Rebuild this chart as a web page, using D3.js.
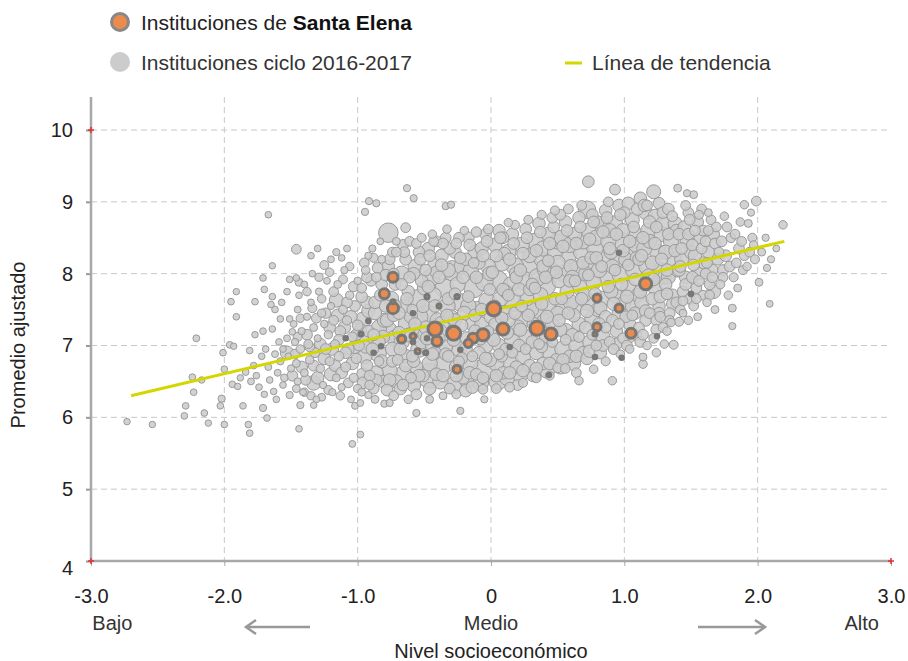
<!DOCTYPE html>
<html>
<head>
<meta charset="utf-8">
<script src="https://cdn.jsdelivr.net/npm/d3@7"></script>
<style>
  body { margin: 0; background: #fff; }
  svg { display: block; font-family: "Liberation Sans", Arial, sans-serif; }
</style>
</head>
<body>
<div id="chart"></div>
<script>
// [nivel socioeconómico, promedio ajustado, matrícula]
const otherSchools = [
  [-2.73,5.94,40],[-2.54,5.9,40],[-2.21,7.1,50],[-2.24,6.56,45],[-2.23,6.35,45],[-2.29,6.16,45],[-2.3,6.02,45],[-2.15,6.06,45],
  [-2.12,5.92,40],[-2.17,6.52,40],[-2.02,6.26,60],[-2.03,6.16,45],[-2.0,5.9,45],[-2.0,6.67,45],[-2.01,6.9,45],[-1.96,7.01,45],
  [-1.93,6.99,40],[-1.95,7.61,45],[-1.91,7.75,40],[-1.91,7.4,45],[-1.94,6.46,45],[-1.9,6.43,40],[-1.86,6.16,45],[-1.82,5.9,45],
  [-1.81,5.78,45],[-1.77,7.61,45],[-1.77,7.15,40],[-1.81,6.93,45],[-1.78,6.72,45],[-1.71,7.94,45],[-1.7,7.78,45],[-1.64,8.11,40],
  [-1.65,7.57,45],[-1.64,7.68,45],[-1.71,7.2,45],[-1.64,7.23,45],[-1.71,6.13,60],[-1.68,5.99,45],[-1.51,7.92,45],[-1.46,7.94,45],
  [-1.46,8.34,150],[-1.44,5.84,45],[-1.58,7.37,45],[-1.51,7.37,45],[-1.49,7.19,45],[-1.56,6.45,45],[-1.51,6.31,60],[-1.43,6.17,60],
  [-1.33,6.17,45],[-1.67,8.82,45],
  [-1.88,6.55,40],[-1.84,6.63,45],[-1.8,6.5,50],[-1.76,6.58,45],[-1.74,6.42,45],[-1.72,6.85,45],[-1.69,6.95,45],[-1.67,6.7,50],
  [-1.66,6.52,45],[-1.63,6.36,45],[-1.62,6.88,50],[-1.6,6.62,50],[-1.59,7.05,45],[-1.58,6.78,60],[-1.56,6.95,45],[-1.55,6.55,70],
  [-1.53,7.1,50],[-1.52,6.85,45],[-1.5,6.68,60],[-1.62,7.5,45],[-1.57,7.6,45],[-1.53,7.75,45],[-1.61,6.25,45],[-1.7,6.32,40],
  [-1.53,6.9,350],[-1.33,6.48,450],[-1.2,6.6,350],[-1.16,7.63,400],[-1.25,8.12,120],
  [-1.48,7.3,50],[-1.47,7.05,60],[-1.46,6.75,80],[-1.45,6.5,60],[-1.45,7.5,50],[-1.44,7.7,45],[-1.43,6.95,100],[-1.42,7.2,60],
  [-1.41,6.35,50],[-1.4,7.85,50],[-1.4,6.62,80],[-1.38,7.4,60],[-1.37,7.02,120],[-1.36,6.8,90],[-1.35,7.6,50],[-1.34,8.0,45],
  [-1.33,7.25,80],[-1.32,6.9,150],[-1.31,6.25,50],[-1.3,7.1,60],[-1.29,7.75,60],[-1.28,6.68,100],[-1.27,7.45,90],[-1.26,6.45,60],
  [-1.25,7.3,70],[-1.24,6.95,200],[-1.23,7.9,50],[-1.22,7.15,90],[-1.21,6.78,120],[-1.2,7.55,60],[-1.19,6.35,60],[-1.18,7.35,150],
  [-1.17,7.02,110],[-1.16,6.55,80],[-1.15,7.85,80],[-1.14,6.85,150],[-1.13,7.2,200],[-1.12,6.42,60],[-1.11,7.5,110],[-1.1,8.05,60],
  [-1.09,6.7,160],[-1.08,7.35,130],[-1.07,6.95,250],[-1.06,7.7,90],[-1.05,6.25,50],[-1.04,7.12,150],[-1.03,6.55,120],[-1.02,7.55,200],
  [-1.01,6.82,180],[-1.0,7.9,70],[-1.0,7.28,200],[-1.0,6.4,90],[-1.08,8.35,50],[-1.12,8.22,45],[-1.2,8.2,50],[-1.35,8.25,45],
  [-1.3,8.35,45],[-1.04,5.63,50],[-0.98,5.76,50],[-1.02,6.16,50],
  [-1.49,6.58,200],[-1.47,6.88,150],[-1.45,7.12,120],[-1.43,7.38,100],[-1.42,6.7,250],[-1.39,6.52,180],[-1.38,7.15,200],[-1.36,6.98,150],
  [-1.34,7.52,120],[-1.33,6.72,200],[-1.31,7.38,150],[-1.3,6.55,300],[-1.28,7.02,250],[-1.27,7.65,100],[-1.25,6.82,300],[-1.24,7.45,180],
  [-1.22,6.38,120],[-1.21,7.25,250],[-1.19,6.95,300],[-1.18,7.75,150],[-1.17,6.72,250],[-1.15,7.42,300],[-1.14,7.08,200],[-1.12,6.62,250],
  [-1.11,7.92,120],[-1.1,7.25,300],[-1.09,6.9,250],[-1.08,7.6,200],[-1.07,6.48,150],[-1.06,8.1,100],[-1.05,7.4,300],[-1.04,6.75,300],
  [-1.03,7.82,180],[-1.02,6.98,350],[-1.01,7.15,250],[-1.44,7.88,80],[-1.38,7.75,100],[-1.29,7.95,90],[-1.21,8.02,100],[-1.16,8.3,60],
  [-1.4,6.35,100],[-1.35,6.3,90],[-1.27,6.28,80],[-1.13,6.3,100],[-1.46,6.4,80],
  [-0.97,6.35,80],[-0.96,6.6,300],[-0.95,6.85,500],[-0.94,7.1,400],[-0.96,7.35,600],[-0.93,7.6,300],[-0.97,7.8,150],[-0.94,8.05,100],
  [-0.92,8.25,60],[-0.99,7.0,200],[-0.91,6.45,150],[-0.92,7.2,250],[-0.9,7.9,200],[-0.98,6.2,50],[-0.93,6.72,250],[-0.915,9.01,60],
  [-0.945,8.86,60],[-0.92,6.31,60],
  [-0.96,6.48,250],[-0.94,6.98,300],[-0.92,7.48,350],[-0.97,7.68,250],[-0.93,7.95,200],[-0.95,8.15,150],[-0.91,6.58,200],[-0.98,7.22,300],
  [-0.88,6.4,200],[-0.86,6.62,400],[-0.85,6.9,700],[-0.84,7.25,500],[-0.87,7.45,350],[-0.83,7.7,250],[-0.86,7.95,150],[-0.82,8.2,80],
  [-0.89,8.35,60],[-0.81,6.5,300],[-0.84,7.05,300],[-0.8,7.35,400],[-0.88,7.15,250],[-0.82,6.78,350],[-0.86,8.98,60],[-0.8,6.19,60],
  [-0.83,8.45,50],[-0.87,6.25,80],
  [-0.86,6.52,250],[-0.84,6.78,150],[-0.87,7.6,300],[-0.82,7.85,250],[-0.85,8.08,200],[-0.88,8.22,120],[-0.81,7.12,350],[-0.89,6.95,300],
  [-0.78,6.38,250],[-0.76,6.65,500],[-0.74,6.95,400],[-0.77,7.2,800],[-0.73,7.42,300],[-0.75,7.65,500],[-0.72,7.85,250],[-0.77,8.1,300],
  [-0.77,8.57,900],[-0.74,8.3,150],[-0.71,6.5,350],[-0.72,7.1,600],[-0.79,7.55,300],[-0.7,6.8,200],[-0.73,8.0,200],[-0.76,6.2,60],
  [-0.71,8.45,80],
  [-0.76,6.52,300],[-0.74,6.78,250],[-0.78,7.35,350],[-0.72,7.55,300],[-0.79,7.98,250],[-0.76,8.2,200],[-0.71,8.3,150],[-0.73,6.3,150],
  [-0.68,6.4,300],[-0.66,6.6,600],[-0.64,6.85,400],[-0.67,7.05,500],[-0.63,7.3,700],[-0.65,7.55,400],[-0.62,7.75,300],[-0.67,8.0,500],
  [-0.64,8.2,250],[-0.64,8.64,150],[-0.63,9.19,60],[-0.6,6.55,200],[-0.69,7.18,300],[-0.61,7.95,250],[-0.66,8.4,200],[-0.62,6.25,100],
  [-0.6,7.4,350],
  [-0.66,6.45,250],[-0.64,6.72,300],[-0.68,6.95,300],[-0.62,7.15,350],[-0.69,7.45,300],[-0.63,7.65,300],[-0.67,7.85,250],[-0.65,8.3,200],
  [-0.61,8.45,150],
  [-0.58,6.45,400],[-0.56,6.7,350],[-0.54,6.95,600],[-0.57,7.2,400],[-0.53,7.4,500],[-0.55,7.65,800],[-0.52,7.9,300],[-0.57,8.1,400],
  [-0.54,8.3,250],[-0.58,9.05,60],[-0.56,6.06,60],[-0.51,6.58,300],[-0.59,6.85,250],[-0.5,7.15,350],[-0.52,8.5,120],[-0.59,7.5,200],
  [-0.5,7.8,400],
  [-0.56,6.32,200],[-0.54,6.58,300],[-0.58,6.78,300],[-0.52,7.05,400],[-0.57,7.3,300],[-0.51,7.55,350],[-0.58,8.0,300],[-0.53,8.2,250],
  [-0.56,8.42,150],
  [-0.46,6.58,1600],[-0.46,6.75,500],[-0.44,7.0,400],[-0.47,7.45,600],[-0.43,7.7,500],[-0.45,7.95,700],[-0.42,8.15,400],[-0.47,8.35,300],
  [-0.44,8.55,100],[-0.41,6.6,300],[-0.49,7.25,350],[-0.4,7.35,500],[-0.42,6.9,300],[-0.49,8.05,250],[-0.46,6.25,80],[-0.41,8.45,200],
  [-0.46,6.4,300],[-0.44,6.88,300],[-0.48,7.1,350],[-0.42,7.55,300],[-0.47,7.82,300],[-0.41,8.02,300],[-0.46,8.25,250],[-0.43,8.45,150],
  [-0.38,6.5,500],[-0.36,6.72,700],[-0.34,6.98,400],[-0.37,7.3,500],[-0.33,7.55,600],[-0.35,7.8,800],[-0.32,8.05,400],[-0.37,8.25,350],
  [-0.34,8.5,200],[-0.34,8.94,60],[-0.3,8.96,60],[-0.31,6.4,200],[-0.39,7.1,300],[-0.3,7.4,400],[-0.32,6.85,250],[-0.39,7.95,300],
  [-0.36,6.3,80],[-0.33,8.62,100],
  [-0.36,6.58,300],[-0.34,6.88,300],[-0.38,7.2,350],[-0.32,7.65,300],[-0.37,8.12,300],[-0.31,8.35,250],[-0.36,8.42,200],[-0.33,7.42,300],
  [-0.28,6.45,600],[-0.26,6.7,400],[-0.24,6.95,500],[-0.27,7.35,350],[-0.23,7.6,700],[-0.25,7.85,500],[-0.29,8.04,1000],[-0.27,8.3,300],
  [-0.24,8.5,200],[-0.23,6.09,60],[-0.21,6.55,300],[-0.29,7.2,300],[-0.2,7.45,400],[-0.22,6.82,250],[-0.22,8.1,500],[-0.26,6.32,120],
  [-0.2,8.6,100],
  [-0.26,6.58,300],[-0.24,6.78,200],[-0.28,7.08,350],[-0.22,7.28,300],[-0.27,7.72,250],[-0.21,7.95,300],[-0.26,8.42,200],[-0.23,8.22,250],
  [-0.18,6.5,400],[-0.16,6.75,600],[-0.14,7.3,400],[-0.17,7.55,500],[-0.13,7.8,900],[-0.15,8.05,500],[-0.12,8.3,400],[-0.17,8.5,250],
  [-0.11,6.6,250],[-0.19,6.95,350],[-0.1,7.5,600],[-0.12,7.2,300],[-0.19,8.2,300],[-0.19,6.37,300],[-0.11,8.58,180],[-0.14,6.42,300],
  [-0.16,6.62,300],[-0.14,6.85,200],[-0.18,7.1,350],[-0.12,7.42,300],[-0.17,7.68,250],[-0.11,7.95,300],[-0.16,8.4,250],[-0.13,8.15,200],
  [-0.08,6.48,600],[-0.05,6.65,1400],[-0.04,7.0,500],[-0.07,7.3,400],[-0.03,7.62,600],[-0.05,7.88,700],[-0.02,8.1,500],[-0.07,8.35,350],
  [-0.04,8.55,250],[-0.01,6.8,400],[-0.09,6.9,300],[0.0,7.4,400],[-0.02,8.62,150],[-0.09,8.15,300],[-0.06,6.39,150],[-0.01,8.0,400],
  [-0.05,6.25,60],
  [-0.06,6.55,250],[-0.04,6.82,300],[-0.08,7.1,350],[-0.02,7.2,200],[-0.07,7.5,300],[-0.01,7.78,250],[-0.06,8.25,300],[-0.03,8.45,250],
  [0.05,6.5,700],[0.04,6.75,500],[0.06,7.0,400],[0.03,7.3,300],[0.07,7.65,500],[0.05,7.9,1000],[0.08,8.15,600],[0.03,8.4,400],
  [0.06,8.6,300],[0.09,6.62,300],[0.01,7.15,350],[0.1,7.45,500],[0.08,6.85,250],[0.01,8.02,300],[0.04,6.4,150],[0.09,8.5,250],
  [0.1,8.28,300],
  [0.04,6.58,300],[0.06,6.88,200],[0.02,7.08,350],[0.08,7.38,300],[0.03,7.55,250],[0.09,7.78,300],[0.04,8.25,300],[0.07,8.5,250],
  [0.12,6.55,500],[0.14,6.8,700],[0.16,7.05,600],[0.13,7.35,400],[0.17,7.6,800],[0.15,7.85,500],[0.18,8.1,700],[0.13,8.3,500],
  [0.16,8.55,300],[0.13,8.71,100],[0.19,6.7,300],[0.11,6.95,250],[0.2,7.25,500],[0.11,7.75,350],[0.19,8.0,400],[0.14,6.42,150],
  [0.18,8.68,120],[0.2,6.45,200],
  [0.14,6.62,300],[0.16,6.9,200],[0.12,7.18,350],[0.18,7.45,300],[0.13,7.7,250],[0.19,7.95,300],[0.14,8.2,300],[0.17,8.42,250],
  [0.22,6.58,400],[0.24,6.85,500],[0.26,7.1,700],[0.23,7.35,600],[0.27,7.65,400],[0.25,7.9,800],[0.28,8.1,900],[0.23,8.4,500],
  [0.26,8.62,250],[0.29,6.72,300],[0.21,7.0,300],[0.3,7.5,500],[0.21,7.78,350],[0.29,8.25,400],[0.24,6.48,120],[0.28,8.75,120],
  [0.22,8.05,300],
  [0.24,6.65,300],[0.26,6.95,200],[0.22,7.22,350],[0.28,7.42,300],[0.23,7.55,250],[0.29,7.78,300],[0.24,8.28,300],[0.27,8.5,250],
  [0.32,6.6,500],[0.34,6.9,400],[0.36,7.15,500],[0.33,7.45,900],[0.37,7.7,500],[0.35,7.95,700],[0.38,8.2,500],[0.33,8.45,600],
  [0.36,8.7,300],[0.39,6.75,300],[0.31,7.05,300],[0.4,7.35,400],[0.31,7.85,300],[0.39,8.35,500],[0.34,6.55,150],[0.38,8.82,120],
  [0.4,8.05,400],[0.38,6.98,250],
  [0.34,6.68,300],[0.36,7.02,200],[0.32,7.3,350],[0.38,7.58,300],[0.33,7.8,250],[0.39,8.1,300],[0.34,8.32,300],[0.37,8.58,250],
  [0.42,6.65,500],[0.44,6.92,600],[0.46,7.3,400],[0.43,7.55,500],[0.4,7.84,1300],[0.45,8.05,600],[0.48,8.3,500],[0.43,8.55,400],
  [0.46,8.78,200],[0.49,6.8,300],[0.41,7.12,300],[0.5,7.45,400],[0.41,7.95,300],[0.49,8.45,500],[0.44,6.58,120],[0.48,8.88,120],
  [0.5,8.15,500],[0.5,6.69,150],
  [0.44,6.75,300],[0.46,7.05,200],[0.42,7.4,350],[0.48,7.65,300],[0.43,8.18,250],[0.49,8.02,300],[0.44,8.42,300],[0.47,8.65,250],
  [0.52,6.7,400],[0.54,6.95,600],[0.56,7.2,500],[0.53,7.5,600],[0.57,7.75,400],[0.55,8.0,700],[0.58,8.25,600],[0.53,8.5,500],
  [0.56,8.72,300],[0.59,6.85,300],[0.51,7.35,300],[0.6,7.6,500],[0.51,7.9,400],[0.59,8.4,500],[0.557,6.68,150],[0.58,8.9,150],
  [0.6,8.1,400],[0.52,8.82,200],
  [0.54,6.8,300],[0.56,7.08,200],[0.52,7.22,350],[0.58,7.45,300],[0.53,7.65,250],[0.59,7.9,300],[0.54,8.38,300],[0.57,8.6,250],
  [0.62,6.75,400],[0.64,7.0,500],[0.66,7.3,400],[0.63,7.55,600],[0.67,7.8,500],[0.65,8.05,800],[0.68,8.3,600],[0.63,8.55,400],
  [0.66,8.78,300],[0.66,6.51,100],[0.69,6.9,300],[0.61,7.15,300],[0.7,7.7,400],[0.61,7.95,400],[0.69,8.45,500],[0.73,9.28,250],
  [0.72,8.89,700],[0.68,8.95,150],[0.64,6.62,150],
  [0.64,6.85,300],[0.66,7.12,200],[0.62,7.42,350],[0.68,7.65,300],[0.63,7.9,250],[0.69,8.15,300],[0.64,8.42,300],[0.67,8.65,250],
  [0.72,6.82,300],[0.74,7.05,400],[0.76,7.38,500],[0.73,7.6,600],[0.77,7.88,500],[0.75,8.1,700],[0.78,8.35,600],[0.73,8.6,500],
  [0.76,8.82,250],[0.79,7.0,200],[0.71,7.25,300],[0.8,7.5,400],[0.71,8.0,400],[0.79,8.5,500],[0.77,6.67,100],[0.8,8.72,300],
  [0.75,8.22,300],
  [0.74,6.92,300],[0.76,7.15,200],[0.72,7.48,350],[0.78,7.72,300],[0.73,7.98,250],[0.79,8.22,300],[0.74,8.48,300],[0.77,8.72,250],
  [0.82,6.9,300],[0.84,7.12,400],[0.86,7.4,300],[0.83,7.65,500],[0.87,7.95,600],[0.85,8.2,700],[0.88,8.45,500],[0.83,8.7,400],
  [0.86,8.88,300],[0.89,7.05,200],[0.81,7.3,300],[0.9,7.75,400],[0.81,8.05,500],[0.89,8.6,400],[0.91,6.51,100],[0.86,6.78,120],
  [0.88,9.0,150],[0.9,8.3,400],
  [0.84,7.0,250],[0.86,7.25,200],[0.82,7.52,350],[0.88,7.82,300],[0.83,8.1,250],[0.89,8.35,300],[0.84,8.58,300],[0.87,8.78,250],
  [0.92,6.95,200],[0.94,7.2,300],[0.96,7.45,400],[0.93,7.7,500],[0.97,7.98,600],[0.95,8.2,500],[0.98,8.45,700],[0.93,8.7,500],
  [0.96,8.95,300],[0.93,9.17,200],[0.99,7.1,200],[0.91,7.35,250],[1.0,7.6,400],[0.91,8.1,400],[0.99,8.6,400],[1.0,8.85,250],
  [0.97,6.88,100],
  [0.94,7.02,250],[0.96,7.3,200],[0.92,7.58,350],[0.98,7.85,300],[0.93,8.05,250],[0.99,8.32,300],[0.94,8.55,300],[0.97,8.82,250],
  [1.02,7.0,200],[1.04,7.3,300],[1.06,7.55,400],[1.03,7.8,500],[1.07,8.05,600],[1.05,8.3,700],[1.08,8.55,500],[1.03,8.98,300],
  [1.06,8.75,400],[1.09,7.15,200],[1.01,7.4,250],[1.1,7.7,400],[1.01,8.2,400],[1.09,8.4,500],[1.1,8.9,300],[1.04,6.95,100],
  [1.08,7.45,300],
  [1.04,7.12,250],[1.06,7.42,200],[1.02,7.68,350],[1.08,7.92,300],[1.03,8.12,250],[1.09,8.22,300],[1.04,8.45,300],[1.07,8.65,250],
  [1.12,7.05,200],[1.14,6.74,100],[1.16,7.35,250],[1.13,7.6,400],[1.17,8.1,600],[1.15,8.35,500],[1.18,8.6,500],[1.12,9.05,300],
  [1.16,8.85,400],[1.19,7.45,200],[1.11,7.25,200],[1.2,7.9,400],[1.11,8.2,300],[1.19,8.45,400],[1.22,9.14,400],[1.15,8.95,300],
  [1.17,7.0,100],[1.14,6.84,80],
  [1.14,7.15,200],[1.16,7.48,300],[1.12,7.75,350],[1.18,7.98,300],[1.13,8.25,300],[1.19,8.72,300],[1.14,8.5,300],[1.17,8.95,200],
  [1.22,7.1,150],[1.24,7.35,200],[1.26,7.55,300],[1.23,7.8,400],[1.27,8.05,500],[1.25,8.3,600],[1.28,8.55,500],[1.23,8.8,400],
  [1.26,8.98,250],[1.29,7.25,150],[1.21,7.65,300],[1.3,7.95,400],[1.21,8.15,400],[1.29,8.7,400],[1.3,7.02,100],[1.24,6.9,100],
  [1.27,7.4,200],
  [1.24,7.22,200],[1.26,7.45,250],[1.22,7.92,300],[1.28,8.2,300],[1.23,8.42,300],[1.29,8.85,250],[1.24,8.65,250],[1.27,7.68,300],
  [1.32,7.2,100],[1.34,7.45,200],[1.36,7.7,300],[1.33,7.95,400],[1.37,8.2,500],[1.35,8.45,500],[1.38,8.7,400],[1.33,8.9,250],
  [1.4,9.19,80],[1.39,7.6,200],[1.31,7.85,300],[1.4,8.05,400],[1.31,8.3,400],[1.39,8.6,300],[1.37,7.01,120],[1.41,7.33,120],
  [1.35,7.32,100],
  [1.34,7.35,150],[1.36,7.58,250],[1.32,8.05,300],[1.38,8.32,300],[1.33,8.55,250],[1.36,8.8,200],[1.32,7.72,250],
  [1.42,7.5,150],[1.44,7.75,250],[1.46,7.95,300],[1.43,8.2,400],[1.47,8.45,400],[1.45,8.65,300],[1.48,8.85,200],[1.52,9.1,80],
  [1.47,9.12,60],[1.49,7.65,200],[1.41,8.05,300],[1.5,8.3,350],[1.41,8.55,250],[1.49,8.75,200],[1.48,7.35,100],[1.44,7.45,80],
  [1.44,7.62,150],[1.46,7.85,250],[1.42,8.1,250],[1.48,8.55,250],[1.43,8.35,250],[1.46,8.95,150],
  [1.52,7.55,150],[1.54,7.8,200],[1.56,8.0,300],[1.53,8.25,350],[1.57,8.5,300],[1.55,8.72,250],[1.58,8.9,150],[1.59,7.7,150],
  [1.51,7.95,250],[1.6,8.15,300],[1.51,8.4,250],[1.59,8.6,200],[1.55,7.4,80],
  [1.54,7.65,150],[1.56,7.9,200],[1.52,8.12,250],[1.58,8.35,200],[1.53,8.6,200],[1.56,8.82,120],
  [1.62,7.6,100],[1.64,7.85,200],[1.66,8.05,250],[1.63,8.3,300],[1.67,8.55,250],[1.65,8.75,150],[1.67,7.75,400],[1.61,8.0,200],
  [1.7,8.2,250],[1.61,8.45,200],[1.69,8.65,150],[1.63,8.85,80],[1.68,7.5,80],
  [1.64,7.7,150],[1.66,7.95,200],[1.62,8.15,200],[1.68,8.42,200],[1.63,8.6,150],
  [1.72,7.85,120],[1.74,8.05,200],[1.76,8.25,250],[1.73,8.45,200],[1.77,8.65,150],[1.75,8.8,100],[1.81,7.52,80],[1.81,7.27,60],
  [1.79,8.1,200],[1.71,8.3,150],[1.8,8.5,150],[1.78,7.7,100],[1.74,7.95,150],
  [1.82,7.95,120],[1.84,8.15,150],[1.86,8.35,200],[1.83,8.55,150],[1.87,8.72,100],[1.9,8.96,100],[1.89,8.05,120],[1.88,8.45,150],
  [1.85,7.8,80],[1.9,8.25,150],
  [1.92,8.1,100],[1.94,8.3,150],[1.96,8.5,120],[1.93,8.7,80],[1.99,9.01,150],[1.98,8.2,120],[2.01,7.88,80],[1.97,8.4,100],
  [1.95,8.85,60],
  [2.07,8.08,60],[2.09,7.58,50],[2.03,8.3,80],[2.06,8.5,60],[2.1,8.2,60],[2.19,8.68,100],[2.14,8.35,50]
];

// Instituciones de Santa Elena: [nivel socioeconómico, promedio ajustado, matrícula]
const santaElena = [
  [-0.735,7.95,160],[-0.8,7.72,160],[-0.735,7.61,4],[-0.735,7.52,210],[-0.48,7.68,4],[-0.255,7.68,4],[-0.39,7.55,4],
  [-0.585,7.45,1],[-0.92,7.34,1],[-0.975,7.16,4],[-1.09,7.1,1],[0.02,7.51,400],[-0.67,7.09,85],[-0.585,7.13,30],
  [-0.585,7.05,1],[-0.42,7.23,400],[-0.405,7.06,160],[-0.48,7.1,1],[-0.28,7.17,400],[-0.17,7.03,85],[-0.135,7.1,160],
  [-0.06,7.15,270],[0.09,7.23,270],[0.345,7.24,400],[0.45,7.16,270],[-0.55,6.92,13],[-0.49,6.9,4],[-0.88,6.9,1],
  [-0.825,6.99,1],[-0.23,6.94,1],[0.14,6.98,1],[-0.255,6.67,85],[0.435,6.59,1],[0.96,8.29,1],[1.16,7.86,270],
  [0.795,7.66,85],[0.96,7.52,85],[0.795,7.26,85],[0.78,7.16,4],[1.05,7.17,160],[1.245,7.13,1],[0.78,6.84,1],
  [0.98,6.83,1],[1.5,7.72,2]
];

// línea de tendencia (extremos)
const trendX = [-2.7, 2.2];
const trendY = [6.30, 8.45];

const xTicks = [-3, -2, -1, 0, 1, 2, 3];
const yTicks = [4, 5, 6, 7, 8, 9, 10];
const levelLabels = [[-2.84, 'Bajo'], [0, 'Medio'], [2.78, 'Alto']];

const width = 908, height = 661;
const plot = { left: 91, right: 891, top: 97, bottom: 561 };
const font = '"Liberation Sans", Arial, sans-serif';

const svg = d3.select('#chart').append('svg')
  .attr('width', width)
  .attr('height', height);

const x = d3.scaleLinear().domain([-3, 3]).range([plot.left, plot.right]);
const y = d3.scaleLinear().domain([4, 10]).range([plot.bottom, 130]);
const r = d3.scaleSqrt().domain([0, 1600]).range([1.5, 12.5]);

// Grid
svg.append('g').selectAll('line')
  .data(xTicks.filter(d => d > -3 && d < 3))
  .join('line')
  .attr('x1', d => x(d)).attr('x2', d => x(d))
  .attr('y1', plot.top).attr('y2', plot.bottom + 5)
  .attr('stroke', '#c8c8c8').attr('stroke-dasharray', '6,4');

svg.append('g').selectAll('line')
  .data(yTicks.filter(d => d > 4))
  .join('line')
  .attr('x1', plot.left).attr('x2', plot.right)
  .attr('y1', d => y(d)).attr('y2', d => y(d))
  .attr('stroke', '#c8c8c8').attr('stroke-dasharray', '6,4');

// Axes
const yAxis = svg.append('g')
  .attr('transform', `translate(${plot.left},0)`)
  .call(d3.axisLeft(y).tickValues(yTicks).tickSizeInner(5).tickSizeOuter(0).tickPadding(13).tickFormat(d3.format('d')));
yAxis.select('.domain').remove();
yAxis.selectAll('line').attr('stroke', '#999').attr('stroke-width', 2);
yAxis.selectAll('text').attr('font-size', 20).attr('fill', '#222').attr('font-family', font)
  .attr('dy', d => d === 4 ? '0.65em' : '0.32em');

const xAxis = svg.append('g')
  .attr('transform', `translate(0,${plot.bottom})`)
  .call(d3.axisBottom(x).tickValues(xTicks).tickSizeInner(5).tickSizeOuter(0).tickPadding(23)
    .tickFormat(d => d === 0 ? '0' : d3.format('.1f')(d).replace('−', '-')));
xAxis.select('.domain').remove();
xAxis.selectAll('line').attr('stroke', '#aaa').attr('stroke-width', 1);
xAxis.selectAll('text').attr('font-size', 20).attr('fill', '#222').attr('font-family', font);

svg.append('line')
  .attr('x1', plot.left).attr('x2', plot.left)
  .attr('y1', plot.top).attr('y2', plot.bottom)
  .attr('stroke', '#a8a8a8').attr('stroke-width', 2.5);
svg.append('line')
  .attr('x1', plot.left).attr('x2', plot.right)
  .attr('y1', plot.bottom).attr('y2', plot.bottom)
  .attr('stroke', '#a8a8a8').attr('stroke-width', 2.5);

// small red corner marks
const corners = [[-3, 10], [-3, 4], [3, 4]];
const cm = svg.append('g').attr('stroke', '#e03030').attr('stroke-width', 1.5);
corners.forEach(([cx, cy]) => {
  cm.append('line').attr('x1', x(cx) - 3).attr('x2', x(cx) + 3).attr('y1', y(cy)).attr('y2', y(cy));
  cm.append('line').attr('x1', x(cx)).attr('x2', x(cx)).attr('y1', y(cy) - 3).attr('y2', y(cy) + 3);
});

// Other schools
svg.append('g').selectAll('circle')
  .data(otherSchools.slice().sort((a, b) => b[2] - a[2]))
  .join('circle')
  .attr('cx', d => x(d[0]))
  .attr('cy', d => y(d[1]))
  .attr('r', d => r(d[2]))
  .attr('fill', '#cccccc')
  .attr('fill-opacity', 0.88)
  .attr('stroke', '#9a9a9a')
  .attr('stroke-width', 1);

// Trend line
svg.append('path')
  .datum(d3.zip(trendX, trendY))
  .attr('d', d3.line().x(d => x(d[0])).y(d => y(d[1])))
  .attr('fill', 'none')
  .attr('stroke', '#d4d600')
  .attr('stroke-width', 3);

// Santa Elena
svg.append('g').selectAll('circle')
  .data(santaElena.slice().sort((a, b) => b[2] - a[2]))
  .join('circle')
  .attr('cx', d => x(d[0]))
  .attr('cy', d => y(d[1]))
  .attr('r', d => r(d[2]))
  .attr('fill', '#ec8b4c')
  .attr('stroke', '#777')
  .attr('stroke-width', 3);

// Axis titles
svg.append('text')
  .attr('transform', `translate(25,345) rotate(-90)`)
  .attr('text-anchor', 'middle')
  .attr('font-size', 20).attr('fill', '#222')
  .text('Promedio ajustado');

svg.append('g').selectAll('text')
  .data(levelLabels)
  .join('text')
  .attr('x', d => x(d[0])).attr('y', 630)
  .attr('text-anchor', 'middle')
  .attr('font-size', 20).attr('fill', '#333')
  .text(d => d[1]);

svg.append('text')
  .attr('x', x(0)).attr('y', 658)
  .attr('text-anchor', 'middle')
  .attr('font-size', 20).attr('fill', '#222')
  .text('Nivel socioeconómico');

// arrows
const arrow = svg.append('g').attr('stroke', '#999').attr('stroke-width', 2.5).attr('fill', 'none');
arrow.append('line').attr('x1', 310).attr('x2', 246).attr('y1', 627).attr('y2', 627);
arrow.append('path').attr('d', 'M256,620 L246,627 L256,634');
arrow.append('line').attr('x1', 698).attr('x2', 765).attr('y1', 627).attr('y2', 627);
arrow.append('path').attr('d', 'M755,620 L765,627 L755,634');

// Legend
const legend = svg.append('g').attr('font-size', 21).attr('fill', '#222');
legend.append('circle').attr('cx', 120).attr('cy', 22).attr('r', 8.5)
  .attr('fill', '#ec8b4c').attr('stroke', '#888').attr('stroke-width', 3);
const t1 = legend.append('text').attr('x', 141).attr('y', 29.5);
t1.append('tspan').text('Instituciones de ');
t1.append('tspan').attr('font-weight', 'bold').attr('fill', '#111').text('Santa Elena');
legend.append('circle').attr('cx', 120).attr('cy', 62).attr('r', 10).attr('fill', '#cccccc');
legend.append('text').attr('x', 141).attr('y', 69.5).attr('fill', '#333').text('Instituciones ciclo 2016-2017');
legend.append('line').attr('x1', 565).attr('x2', 582).attr('y1', 63).attr('y2', 63)
  .attr('stroke', '#d4d600').attr('stroke-width', 3);
legend.append('text').attr('x', 592).attr('y', 69.5).attr('fill', '#333').text('Línea de tendencia');
</script>
</body>
</html>
